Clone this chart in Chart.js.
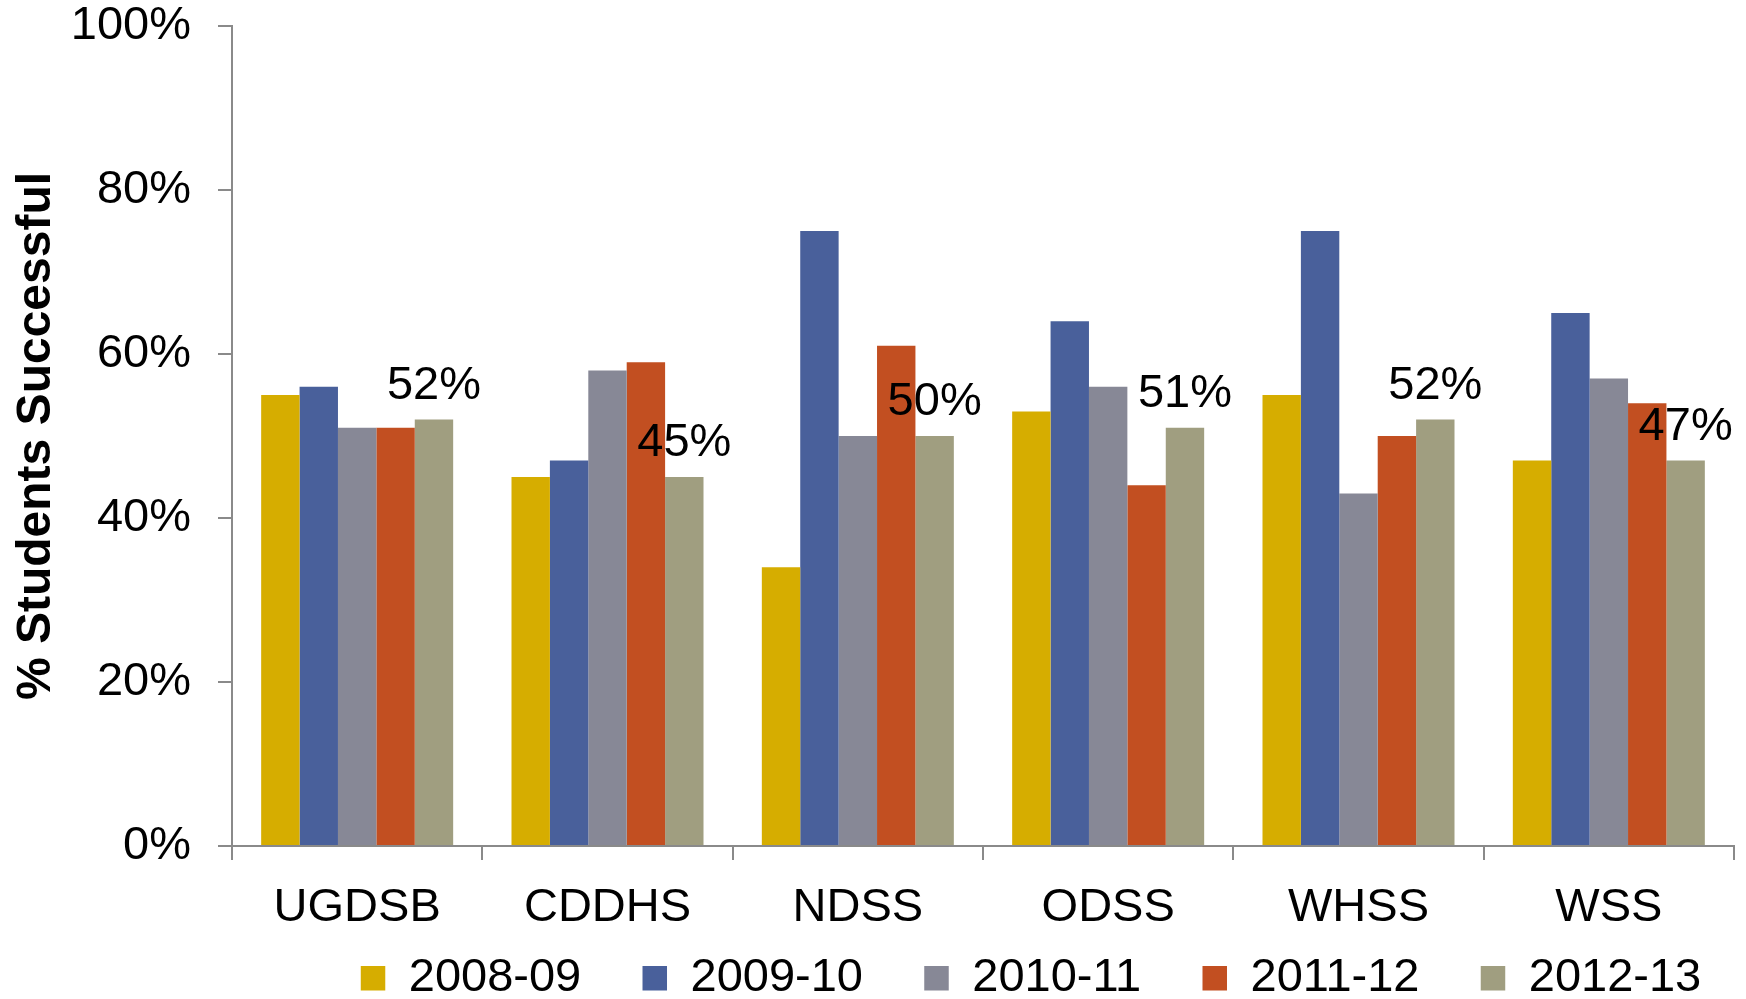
<!DOCTYPE html>
<html>
<head>
<meta charset="utf-8">
<script src="https://cdn.jsdelivr.net/npm/chart.js@4.4.1/dist/chart.umd.min.js"></script>
<style>
  html, body { margin: 0; padding: 0; background: #ffffff; }
  #wrap { width: 1746px; height: 999px; position: relative; }
</style>
</head>
<body>
<div id="wrap"><canvas id="c"></canvas></div>
<script>
// ---- data ----
const categories = ['UGDSB', 'CDDHS', 'NDSS', 'ODSS', 'WHSS', 'WSS'];
const seriesNames = ['2008-09', '2009-10', '2010-11', '2011-12', '2012-13'];
const values2008 = [55, 45, 34, 53, 55, 47];
const values2009 = [56, 47, 75, 64, 75, 65];
const values2010 = [51, 58, 50, 56, 43, 57];
const values2011 = [51, 59, 61, 44, 50, 54];
const values2012 = [52, 45, 50, 51, 52, 47];
const yTickValues = [0, 20, 40, 60, 80, 100];
const yTickLabels = ['0%', '20%', '40%', '60%', '80%', '100%'];
const labelledSeries = '2012-13';
const yAxisTitle = '% Students Successful';

// ---- style ----
const seriesColors = ['#D6AD00', '#49609B', '#878896', '#C24F21', '#A09E80'];
const FONT = '"Liberation Sans", Arial, Helvetica, sans-serif';
const AXIS = '#8a8a8a';

const allValues = [values2008, values2009, values2010, values2011, values2012];
const datasets = seriesNames.map((name, i) => ({
  label: name,
  data: allValues[i],
  backgroundColor: seriesColors[i],
  borderWidth: 0,
  categoryPercentage: 0.767,
  barPercentage: 1.0
}));

const valueLabels = {
  id: 'valueLabels',
  afterDatasetsDraw(chart) {
    const ctx = chart.ctx;
    chart.data.datasets.forEach((ds, i) => {
      if (ds.label !== labelledSeries) return;
      const meta = chart.getDatasetMeta(i);
      meta.data.forEach((el, j) => {
        ctx.save();
        ctx.font = '47px ' + FONT;
        ctx.fillStyle = '#000000';
        ctx.textAlign = 'center';
        ctx.textBaseline = 'alphabetic';
        ctx.fillText(ds.data[j] + '%', el.x, el.y - 21);
        ctx.restore();
      });
    });
  }
};

// moves the legend block to sit under the plot like the original
const legendShift = {
  id: 'legendShift',
  afterLayout(chart) {
    const l = chart.legend;
    if (!l) return;
    const dx = 164, dy = -63.5;
    l.left += dx; l.right += dx;
    l.top += dy;
    l.bottom = l.top + 140;
  }
};

new Chart(document.getElementById('c'), {
  type: 'bar',
  data: { labels: categories, datasets: datasets },
  plugins: [valueLabels, legendShift],
  options: {
    responsive: true,
    maintainAspectRatio: false,
    animation: false,
    events: [],
    layout: { padding: { left: 0, right: 12, top: 0, bottom: 0 } },
    plugins: {
      tooltip: { enabled: false },
      title: { display: false },
      legend: {
        display: true,
        position: 'bottom',
        align: 'center',
        maxHeight: 42,
        labels: {
          boxWidth: 24.5,
          boxHeight: 24.5,
          padding: 61.25,
          color: '#000000',
          font: { family: FONT, size: 47 }
        }
      }
    },
    scales: {
      x: {
        type: 'category',
        offset: true,
        grid: {
          display: true,
          drawOnChartArea: false,
          drawTicks: true,
          tickLength: 14,
          offset: true,
          color: AXIS,
          lineWidth: 2
        },
        border: { display: true, color: AXIS, width: 2 },
        ticks: {
          color: '#000000',
          padding: 20.3,
          maxRotation: 0,
          autoSkip: false,
          font: { family: FONT, size: 47 }
        }
      },
      y: {
        min: 0,
        max: 100,
        grid: {
          display: true,
          drawOnChartArea: false,
          drawTicks: true,
          tickLength: 14,
          color: AXIS,
          lineWidth: 2
        },
        border: { display: true, color: AXIS, width: 2 },
        afterBuildTicks(scale) {
          scale.ticks = yTickValues.map(v => ({ value: v }));
        },
        ticks: {
          color: '#000000',
          padding: 27,
          font: { family: FONT, size: 47, lineHeight: 1.13 },
          callback(value) {
            const k = yTickValues.indexOf(value);
            return k >= 0 ? yTickLabels[k] : '';
          }
        },
        title: {
          display: true,
          text: yAxisTitle,
          color: '#000000',
          padding: { top: 7.5, bottom: 0 },
          font: { family: FONT, size: 48, weight: 'bold' }
        },
        afterFit(scale) {
          scale.width = 232;
          scale.paddingTop = 26;
          scale.paddingBottom = 26;
        }
      }
    }
  }
});
</script>
</body>
</html>
